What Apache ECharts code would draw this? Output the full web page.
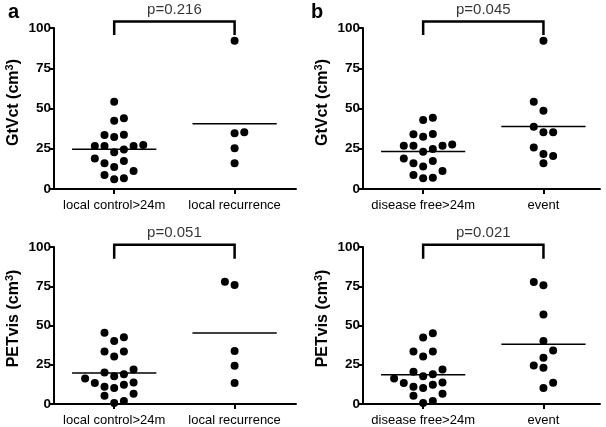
<!DOCTYPE html>
<html><head><meta charset="utf-8">
<script src="https://cdn.jsdelivr.net/npm/echarts@6/dist/echarts.min.js"></script>
<style>html,body{margin:0;padding:0;background:#fff}#c{width:606px;height:427px}</style>
</head><body><div id="c"></div>
<script>
// ---------- data ----------
const CATEGORIES_A = ['local control>24m', 'local recurrence'];
const CATEGORIES_B = ['disease free>24m', 'event'];
const Y_NAME_TOP = 'GtVct (cm{sup|3})';
const Y_NAME_BOTTOM = 'PETvis (cm{sup|3})';
const P_VALUES = ['p=0.216', 'p=0.045', 'p=0.051', 'p=0.021'];
const PANEL_LETTERS = ['a', 'b'];

// values and beeswarm column (slot) of each dot
const gtvLocalControl = [54.2, 42.4, 43.9, 33.5, 32.3, 33.7, 26.7, 26.7, 22.8, 24.6, 26.7, 27.3, 19, 16, 13.7, 17.4, 11.2, 8.7, 6, 6.6];
const gtvLocalControlColumn = [0, 0, 1, -1, 0, 1, -2, -1, 0, 1, 2, 3, -2, -1, 0, 1, 2, -1, 0, 1];
const gtvLocalRecurrence = [92.1, 34.6, 35.2, 25.3, 16];
const gtvLocalRecurrenceColumn = [0, 0, 1, 0, 0];
const gtvMeansLocal = [24.7, 40.6];

const gtvDiseaseFree = [42.9, 44.3, 34, 32.5, 34.2, 26.9, 26.9, 23.2, 24.8, 26.9, 27.7, 19, 16, 13.9, 17.4, 11.2, 8.7, 6.6, 7];
const gtvDiseaseFreeColumn = [0, 1, -1, 0, 1, -2, -1, 0, 1, 2, 3, -2, -1, 0, 1, 2, -1, 0, 1];
const gtvEvent = [92.1, 54.2, 48.6, 38.7, 35.2, 35.2, 25.7, 21.7, 20.5, 16];
const gtvEventColumn = [0, -1, 0, -1, 0, 1, -1, 0, 1, 0];
const gtvMeansEvent = [23.3, 38.8];

const petLocalControl = [45.4, 40.2, 42.5, 33.5, 30.2, 33.5, 20, 17.7, 19, 22, 16.2, 13.3, 11, 10.2, 12.3, 13.7, 5.2, 6.5, 0.6, 1.9];
const petLocalControlColumn = [-1, 0, 1, -1, 0, 1, -1, 0, 1, 2, -3, -2, -1, 0, 1, 2, -1, 2, 0, 1];
const petLocalRecurrence = [77.9, 75.8, 33.7, 24.4, 13.3];
const petLocalRecurrenceColumn = [-1, 0, 0, 0, 0];
const petMeansLocal = [19.8, 45.2];

const petDiseaseFree = [42.3, 45, 33.5, 30.2, 33.5, 20.6, 17.7, 19, 22, 16.2, 13.3, 11, 10.2, 12.3, 13.7, 5.2, 6.5, 0.6, 1.9];
const petDiseaseFreeColumn = [0, 1, -1, 0, 1, -1, 0, 1, 2, -3, -2, -1, 0, 1, 2, -1, 2, 0, 1];
const petEvent = [77.7, 75.6, 57, 40.2, 34, 29.4, 24.6, 23.1, 13.5, 10.2];
const petEventColumn = [-1, 0, 0, 0, 1, 0, -1, 0, 1, 0];
const petMeansEvent = [18.7, 38.1];

// ---------- layout / style ----------
const FONT = '"Liberation Sans", Arial, Helvetica, sans-serif';
const COL_STEP = 0.0805;   // horizontal spacing of dot columns (in category units)
const MEAN_HALF = 0.35;    // half width of mean line
const panels = [
  { grid: { left: 54, top: 28, width: 242, height: 161 }, xMax: 1.51, cats: CATEGORIES_A, yName: Y_NAME_TOP, namePad: 12,
    groups: [[gtvLocalControl, gtvLocalControlColumn], [gtvLocalRecurrence, gtvLocalRecurrenceColumn]],
    means: gtvMeansLocal, p: P_VALUES[0], bracket: [95.6, 104] },
  { grid: { left: 363, top: 28, width: 237, height: 161 }, xMax: 1.47, cats: CATEGORIES_B, yName: Y_NAME_TOP, namePad: 12,
    groups: [[gtvDiseaseFree, gtvDiseaseFreeColumn], [gtvEvent, gtvEventColumn]],
    means: gtvMeansEvent, p: P_VALUES[1], bracket: [95.6, 104] },
  { grid: { left: 54, top: 247, width: 242, height: 160 }, xMax: 1.51, cats: CATEGORIES_A, yName: Y_NAME_BOTTOM, namePad: 14,
    groups: [[petLocalControl, petLocalControlColumn], [petLocalRecurrence, petLocalRecurrenceColumn]],
    means: petMeansLocal, p: P_VALUES[2], bracket: [92.5, 101.4] },
  { grid: { left: 363, top: 247, width: 237, height: 160 }, xMax: 1.47, cats: CATEGORIES_B, yName: Y_NAME_BOTTOM, namePad: 14,
    groups: [[petDiseaseFree, petDiseaseFreeColumn], [petEvent, petEventColumn]],
    means: petMeansEvent, p: P_VALUES[3], bracket: [92.5, 101.4] }
];

const grid = [], xAxis = [], yAxis = [], series = [];
panels.forEach((pn, i) => {
  grid.push(pn.grid);
  xAxis.push({
    type: 'value', gridIndex: i, min: -0.5, max: pn.xMax,
    splitLine: { show: false },
    axisLine: { show: true, onZero: false, lineStyle: { color: '#000', width: 2 } },
    axisTick: { show: true, customValues: [0, 1], length: 5, lineStyle: { color: '#000', width: 2 } },
    axisLabel: { customValues: [0, 1], formatter: v => pn.cats[Math.round(v)], color: '#000',
      fontFamily: FONT, fontSize: 13, margin: 10 }
  });
  yAxis.push({
    type: 'value', gridIndex: i, min: 0, max: 100, interval: 25,
    splitLine: { show: false },
    axisLine: { show: true, onZero: false, lineStyle: { color: '#000', width: 2 } },
    axisTick: { show: true, length: 5, lineStyle: { color: '#000', width: 2 } },
    axisLabel: { color: '#000', fontFamily: FONT, fontSize: 13.5, fontWeight: 'bold', margin: 3 },
    name: pn.yName, nameLocation: 'middle', nameGap: 31,
    nameTextStyle: { color: '#000', fontFamily: FONT, fontSize: 16, fontWeight: 'bold', lineHeight: 19,
      padding: [0, 0, 0, pn.namePad],
      rich: { sup: { fontSize: 11, fontWeight: 'bold', fontFamily: FONT, color: '#000', verticalAlign: 'top', lineHeight: 11 } } }
  });
  pn.groups.forEach((g, c) => {
    const [vals, cols] = g;
    series.push({
      type: 'scatter', xAxisIndex: i, yAxisIndex: i, symbol: 'circle', symbolSize: 8, clip: false,
      itemStyle: { color: '#000', opacity: 1 }, data: vals.map((v, k) => [c + cols[k] * COL_STEP, v])
    });
    series.push({
      type: 'line', xAxisIndex: i, yAxisIndex: i, symbol: 'none', clip: false,
      lineStyle: { color: '#000', width: 1.5 },
      data: [[c - MEAN_HALF, pn.means[c]], [c + MEAN_HALF, pn.means[c]]]
    });
  });
  series.push({
    type: 'line', xAxisIndex: i, yAxisIndex: i, symbol: 'none', clip: false,
    lineStyle: { color: '#000', width: 2.5, cap: 'butt', join: 'miter' },
    data: [[0, pn.bracket[0]], [0, pn.bracket[1]], [1, pn.bracket[1]], [1, pn.bracket[0]]]
  });
  series.push({
    type: 'scatter', xAxisIndex: i, yAxisIndex: i, symbolSize: 0, clip: false,
    label: { show: true, position: 'top', distance: 4, formatter: pn.p, color: '#000', fontFamily: FONT, fontSize: 15 },
    data: [[0.5, pn.bracket[1]]]
  });
});

const chart = echarts.init(document.getElementById('c'), null, { renderer: 'canvas' });
chart.setOption({
  animation: false,
  backgroundColor: '#fff',
  title: PANEL_LETTERS.map((t, k) => ({ text: t, left: k === 0 ? 3 : 306, top: -3,
    textStyle: { fontFamily: FONT, fontSize: 20, fontWeight: 'bold', color: '#000' } })),
  grid, xAxis, yAxis, series
});
</script></body></html>
